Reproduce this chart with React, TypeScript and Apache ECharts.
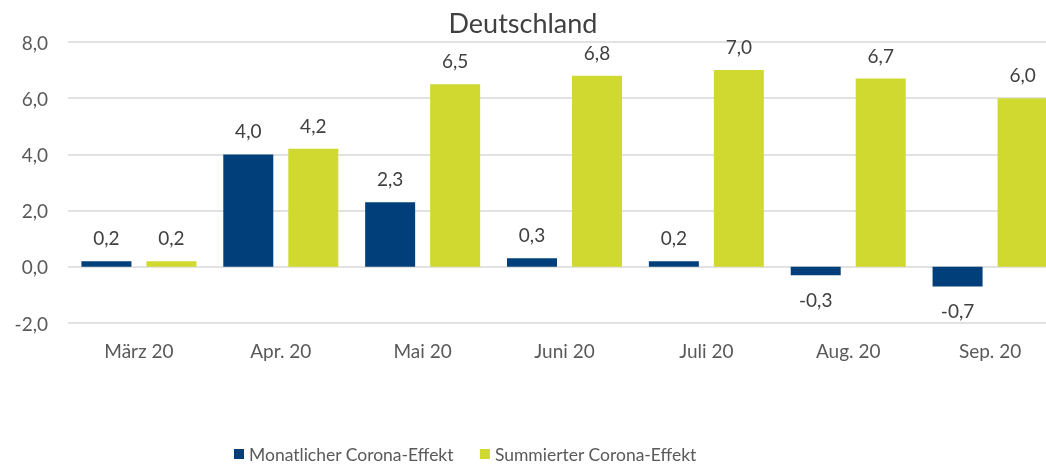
import React, { useEffect, useRef } from "react";
import * as echarts from "echarts";

const categories = ["März 20", "Apr. 20", "Mai 20", "Juni 20", "Juli 20", "Aug. 20", "Sep. 20"];
const monthly = [0.2, 4.0, 2.3, 0.3, 0.2, -0.3, -0.7];
const cumulative = [0.2, 4.2, 6.5, 6.8, 7.0, 6.7, 6.0];
const seriesNames = ["Monatlicher Corona-Effekt", "Summierter Corona-Effekt"];
const titleText = "Deutschland";

const FONT = "Lato, 'Open Sans', sans-serif";
const fmt = (v: number) => v.toFixed(1).replace(".", ",");

export default function App() {
  const ref = useRef<HTMLDivElement>(null);
  useEffect(() => {
    if (!ref.current) return;
    const chart = echarts.init(ref.current, undefined, { renderer: "svg" });
    const labelBase = {
      show: true,
      fontFamily: FONT,
      fontSize: 19,
      color: "#404040",
      formatter: (p: any) => fmt(p.value),
    };
    const mk = (arr: number[]) =>
      arr.map((v) => ({
        value: v,
        label: v < 0 ? { position: "bottom", distance: 15 } : { position: "top", distance: 14 },
      }));
    chart.setOption({
      animation: false,
      title: {
        text: titleText,
        left: "center",
        top: 4,
        textStyle: { fontFamily: FONT, fontSize: 27, fontWeight: "normal", color: "#404040" },
      },
      grid: { left: 68, top: 42, width: 993, height: 281, outerBoundsMode: "none", containLabel: false },
      legend: {
        left: 234,
        top: 445,
        padding: 0,
        itemWidth: 10,
        itemHeight: 10,
        itemGap: 26,
        icon: "rect",
        textStyle: { fontFamily: FONT, fontSize: 17.5, color: "#595959" },
        data: seriesNames,
      },
      xAxis: {
        type: "category",
        data: categories,
        axisLine: { show: false, onZero: false },
        axisTick: { show: false },
        axisLabel: { fontFamily: FONT, fontSize: 19, color: "#595959", margin: 18 },
      },
      yAxis: {
        type: "value",
        min: -2,
        max: 8,
        interval: 2,
        axisLabel: {
          fontFamily: FONT,
          fontSize: 19,
          color: "#595959",
          margin: 20,
          formatter: (v: number) => fmt(v),
        },
        splitLine: { lineStyle: { color: "#d9d9d9", width: 1.5 } },
        axisLine: { show: false },
        axisTick: { show: false },
      },
      series: [
        {
          name: seriesNames[0],
          type: "bar",
          data: mk(monthly),
          barWidth: 50,
          barGap: "30%",
          itemStyle: { color: "#003F7A" },
          label: labelBase,
        },
        {
          name: seriesNames[1],
          type: "bar",
          data: mk(cumulative),
          barWidth: 50,
          barGap: "30%",
          itemStyle: { color: "#D0D92F" },
          label: labelBase,
        },
      ],
    });
    return () => chart.dispose();
  }, []);
  return (
    <div style={{ position: "fixed", left: 0, top: 0 }}>
      <div ref={ref} style={{ width: 1046, height: 467 }} />
    </div>
  );
}
